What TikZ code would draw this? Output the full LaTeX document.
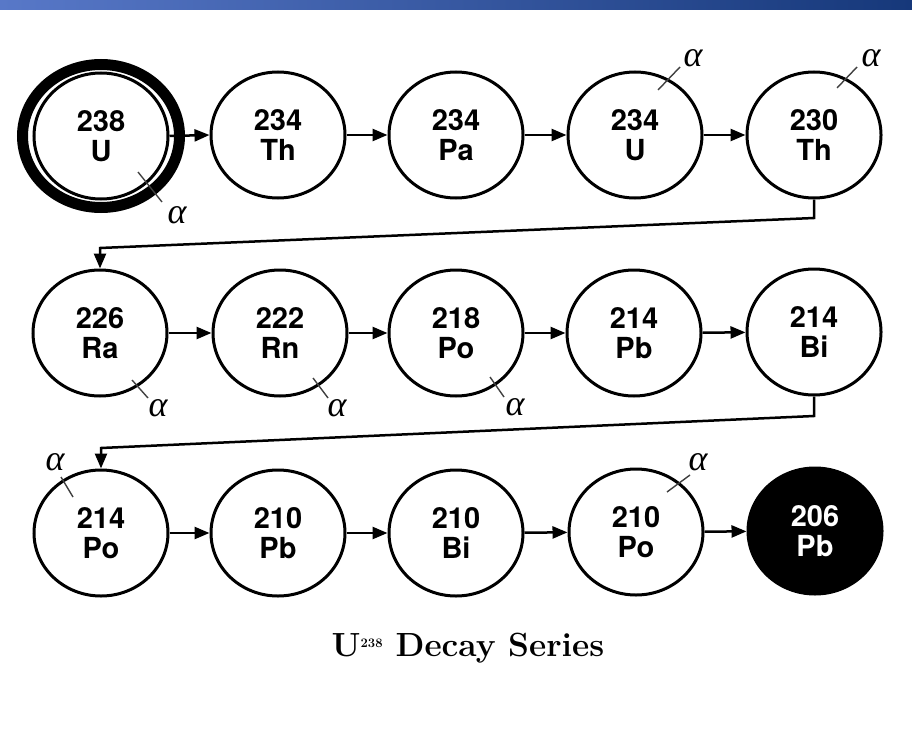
\documentclass[tikz,border=0pt]{standalone}
\usepackage{fontspec}
\newfontfamily\labfont{TeX Gyre Heros}
\newfontfamily\greekfont{Liberation Serif}
\usetikzlibrary{shapes.geometric,arrows.meta,calc}
\definecolor{barleft}{RGB}{88,120,200}
\definecolor{barright}{RGB}{22,56,122}
\tikzset{
  nuc/.style={ellipse, draw=black, line width=3pt, minimum width=134pt, minimum height=126pt,
    inner sep=0pt, fill=white, align=center,
    font=\labfont\bfseries\fontsize{29}{29.5}\selectfont},
  endnuc/.style={nuc, fill=black, text=white},
  decay/.style={line width=2.5pt, -{Triangle[length=15pt,width=12pt]}},
  alphatick/.style={line width=1.4pt, black!75},
  alphalab/.style={font=\greekfont\itshape\fontsize{36}{36}\selectfont, inner sep=0pt},
}
\begin{document}
\begin{tikzpicture}[x=1pt,y=-1pt]
\useasboundingbox (0,0) rectangle (912,733);
\fill[white] (0,0) rectangle (912,733);
\shade[left color=barleft, right color=barright] (0,0) rectangle (912,10);

% row 1
\node[nuc] (u238)  at (101,136) {238\\U};
\draw[line width=11pt] (u238.center) ellipse [x radius=78.5pt, y radius=71.5pt];
\node[nuc] (th234) at (278,135) {234\\Th};
\node[nuc] (pa234) at (456,135) {234\\Pa};
\node[nuc] (u234)  at (635,135) {234\\U};
\node[nuc] (th230) at (814,135) {230\\Th};
% row 2
\node[nuc] (ra226) at (100,333) {226\\Ra};
\node[nuc] (rn222) at (280,333) {222\\Rn};
\node[nuc] (po218) at (456,333) {218\\Po};
\node[nuc] (pb214) at (634,333) {214\\Pb};
\node[nuc] (bi214) at (814,332) {214\\Bi};
% row 3
\node[nuc] (po214) at (101,533) {214\\Po};
\node[nuc] (pb210) at (278,533) {210\\Pb};
\node[nuc] (bi210) at (456,533) {210\\Bi};
\node[nuc] (po210) at (636,532) {210\\Po};
\node[endnuc] (pb206) at (815,531) {206\\Pb};

% connectors
\draw[decay] (u238.east) -- (th234.west);
\draw[decay] (th234) -- (pa234);
\draw[decay] (pa234) -- (u234);
\draw[decay] (u234) -- (th230);
\coordinate (c1) at (814,218);
\coordinate (c2) at (100,248);
\draw[decay] (th230.south) -- (c1) -- (c2) -- (ra226.north);
\draw[decay] (ra226) -- (rn222);
\draw[decay] (rn222) -- (po218);
\draw[decay] (po218) -- (pb214);
\draw[decay] (pb214) -- (bi214);
\coordinate (c3) at (814,416);
\coordinate (c4) at (101,448);
\draw[decay] (bi214.south) -- (c3) -- (c4) -- (po214.north);
\draw[decay] (po214) -- (pb210);
\draw[decay] (pb210) -- (bi210);
\draw[decay] (bi210) -- (po210);
\draw[decay] (po210) -- (pb206);

% alpha marks
\draw[alphatick] ($(u238)+(37,36)$) -- ($(u238)+(61,66)$);
\node[alphalab] (a1) at ($(u238)+(76,79)$) {α};
\draw[alphatick] ($(u234)+(23,-45)$) -- ($(u234)+(45,-68)$);
\node[alphalab] (a2) at ($(u234)+(58,-77)$) {α};
\draw[alphatick] ($(th230)+(23,-47)$) -- ($(th230)+(43,-68)$);
\node[alphalab] (a3) at ($(th230)+(57,-77)$) {α};
\draw[alphatick] ($(ra226)+(32,47)$) -- ($(ra226)+(48,65)$);
\node[alphalab] (a4) at ($(ra226)+(58,75)$) {α};
\draw[alphatick] ($(rn222)+(33,45)$) -- ($(rn222)+(48,65)$);
\node[alphalab] (a5) at ($(rn222)+(57,75)$) {α};
\draw[alphatick] ($(po218)+(34,44)$) -- ($(po218)+(48,64)$);
\node[alphalab] (a6) at ($(po218)+(59,74)$) {α};
\draw[alphatick] ($(po214)+(-28,-36)$) -- ($(po214)+(-40,-56)$);
\node[alphalab] (a7) at ($(po214)+(-46,-71)$) {α};
\draw[alphatick] ($(po210)+(31,-40)$) -- ($(po210)+(54,-57)$);
\node[alphalab] (a8) at ($(po210)+(62,-70)$) {α};

% title
\node (title) at (468,648) {\fontsize{33.5}{33.5}\selectfont\bfseries U\textsuperscript{\fontsize{13}{13}\selectfont 238} Decay Series};
\end{tikzpicture}
\end{document}
